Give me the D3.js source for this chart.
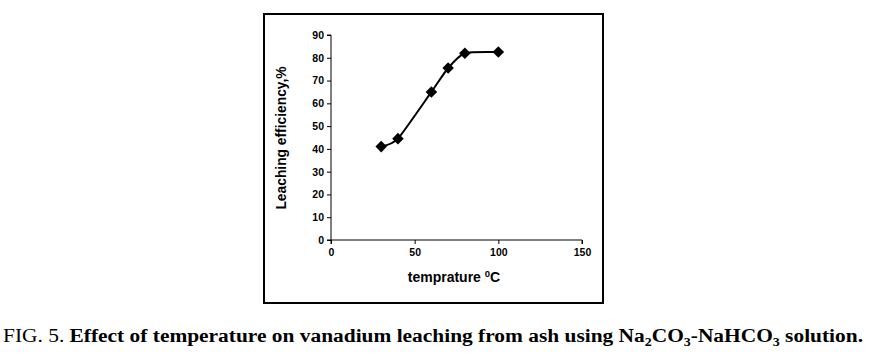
<!DOCTYPE html>
<html><head><meta charset="utf-8">
<script src="https://cdn.jsdelivr.net/npm/d3@7"></script>
<style>body{margin:0;background:#fff;} svg{display:block;}</style>
</head><body>
<svg id="c" width="875" height="359"></svg>
<script>
const temps = [30, 40, 60, 70, 80, 100];
const efficiency = [41, 44.5, 65, 75.5, 82, 82.5];
const xTicks = [0, 50, 100, 150];
const yTicks = [0, 10, 20, 30, 40, 50, 60, 70, 80, 90];

const svg = d3.select("#c");
svg.append("rect").attr("x", 264).attr("y", 14).attr("width", 339).attr("height", 289)
  .attr("fill", "none").attr("stroke", "#000").attr("stroke-width", 2);

const x = d3.scaleLinear().domain([0, 150]).range([331, 582]);
const y = d3.scaleLinear().domain([0, 90]).range([240, 35]);

const xa = svg.append("g").attr("transform", "translate(0,240)")
  .call(d3.axisBottom(x).tickValues(xTicks).tickSize(4).tickPadding(5));
const ya = svg.append("g").attr("transform", "translate(331,0)")
  .call(d3.axisLeft(y).tickValues(yTicks).tickSize(4).tickPadding(3));
[xa, ya].forEach(a => {
  a.select(".domain").attr("stroke", "#000").attr("stroke-width", 1);
  a.selectAll(".tick line").attr("stroke", "#000");
  a.selectAll("text").attr("font-family", "Liberation Sans, Arial, sans-serif")
    .attr("font-weight", "bold").attr("font-size", 10.5).attr("fill", "#000");
});
ya.select(".domain").attr("d", "M-4,35H0V240H-4");
xa.select(".domain").attr("d", "M331,4V0H582V4");

const line = d3.line().x((d, i) => x(temps[i])).y(d => y(d)).curve(d3.curveCardinal.tension(0.4));
svg.append("path").datum(efficiency).attr("d", line).attr("fill", "none")
  .attr("stroke", "#000").attr("stroke-width", 2);

svg.selectAll("path.m").data(efficiency).enter().append("path").attr("class", "m")
  .attr("d", d3.symbol().type(d3.symbolDiamond2).size(85))
  .attr("transform", (d, i) => `translate(${x(temps[i])},${y(d)})`).attr("fill", "#000");

svg.append("text").attr("transform", "translate(286,138) rotate(-90)").attr("text-anchor", "middle")
  .attr("font-family", "Liberation Sans, Arial, sans-serif").attr("font-weight", "bold").attr("font-size", 13.8)
  .text("Leaching efficiency,%");

const xt = svg.append("text").attr("x", 454).attr("y", 282).attr("text-anchor", "middle")
  .attr("font-family", "Liberation Sans, Arial, sans-serif").attr("font-weight", "bold").attr("font-size", 14);
xt.append("tspan").text("temprature ");
xt.append("tspan").attr("font-size", 9.5).attr("dy", -5.5).text("0");
xt.append("tspan").attr("dy", 5.5).text("C");

const cap = svg.append("text").attr("x", 3).attr("y", 342)
  .attr("font-family", "Liberation Serif, Times New Roman, serif").attr("font-size", 18.5)
  .attr("textLength", 860).attr("lengthAdjust", "spacingAndGlyphs");
cap.append("tspan").text("FIG. 5. ");
const b = cap.append("tspan").attr("font-weight", "bold");
b.append("tspan").text("Effect of temperature on vanadium leaching from ash using Na");
b.append("tspan").attr("font-size", 12).attr("dy", 4).text("2");
b.append("tspan").attr("dy", -4).text("CO");
b.append("tspan").attr("font-size", 12).attr("dy", 4).text("3");
b.append("tspan").attr("dy", -4).text("-NaHCO");
b.append("tspan").attr("font-size", 12).attr("dy", 4).text("3");
b.append("tspan").attr("dy", -4).text(" solution.");
</script>
</body></html>
